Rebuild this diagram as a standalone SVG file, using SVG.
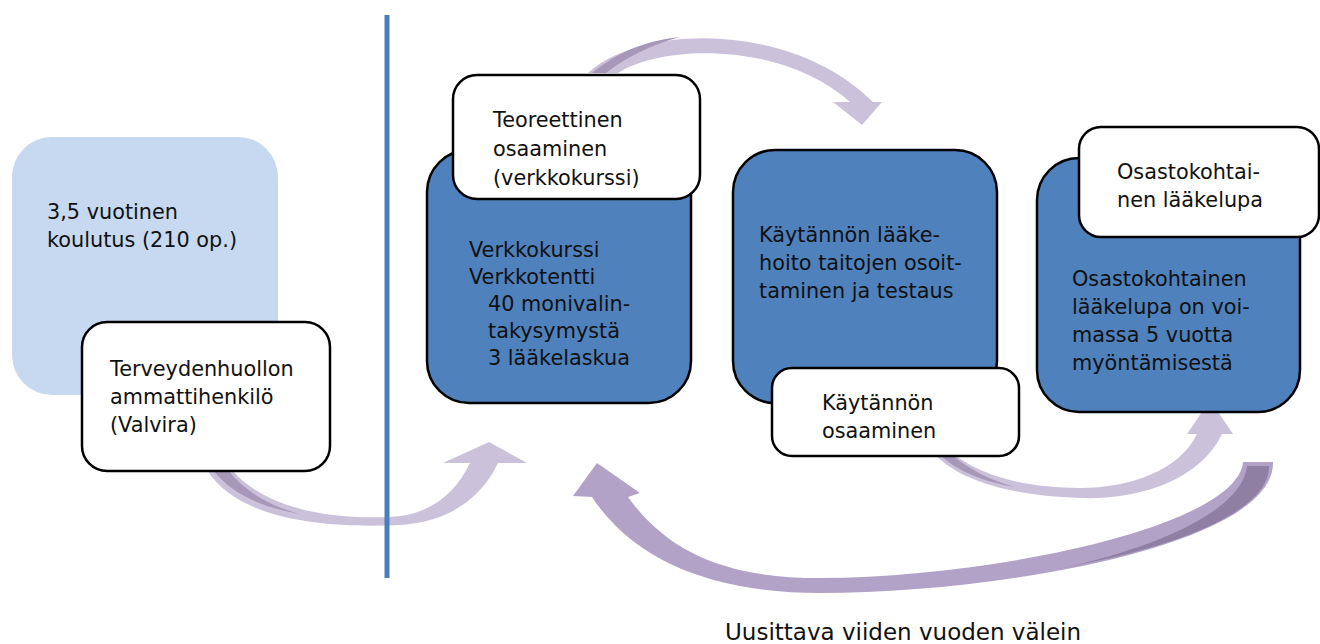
<svg xmlns="http://www.w3.org/2000/svg" width="1320" height="644" viewBox="0 0 1320 644">
<style>
text{font-family:"DejaVu Sans","Liberation Sans",sans-serif;font-size:20.8px;fill:#111}
.blue{fill:#4f81bd;stroke:#000;stroke-width:2.5}
.white{fill:#fff;stroke:#000;stroke-width:2.5}
.light{fill:#ccc1da}
.mid{fill:#b3a2c7}
.dark{fill:#8f7fa2}
.shade{fill:#a797b8}
</style>
<defs>
<clipPath id="bigClip"><path d="M1270 464 C1272 545 1000 590 820 590 L820 580 C1000 579 1240 527 1246 464 Z"/></clipPath>
</defs>
<rect width="1320" height="644" fill="#fff"/>
<g id="connectors">
<g id="arrow-left">
<path class="light" d="M207 470 C240 522 330 528 400 525 C450 522 482 497 498 463 L527 463 L489 442 L443 463 L470 463 C455 494 430 515 390 517 C320 520 262 505 232 470 Z"/>
<path class="shade" d="M213 470 L228 470 C245 492 270 506 300 514 C265 508 232 495 213 470 Z"/>
</g>
<g id="arrow-top">
<path class="light" d="M588 73 C640 25 790 20 873 102 L882 102 L862 125 L833 102 L850 102 C780 40 660 45 618 73 Z"/>
<path class="shade" d="M592 73 C620 50 650 40 680 37 C650 45 625 58 606 73 Z"/>
</g>
<g id="arrow-right">
<path class="light" d="M935 455 C960 480 1010 496 1080 498 C1140 500 1200 480 1222 434 L1233 434 L1210 400 L1187 434 L1197 434 C1180 470 1130 488 1080 488 C1030 488 985 478 955 455 Z"/>
<path class="shade" d="M940 455 L952 455 C970 470 990 480 1015 487 C985 482 958 472 940 455 Z"/>
</g>
<g id="arrow-bottom">
<path class="mid" d="M1273 462 C1275 545 1000 593 820 593 C730 593 640 570 592 497 L573 496 L597 463 L640 493 L628 497 C670 555 730 578 820 578 C1000 577 1238 525 1243 462 Z"/>
<path class="dark" clip-path="url(#bigClip)" d="M1247 466 L1269 466 C1271 543 1000 590 900 592 C1080 578 1240 528 1247 466 Z"/>
</g>
</g>
<line id="divider" x1="387" y1="15" x2="387" y2="578" stroke="#4a7ebb" stroke-width="5"/>
<g id="node-koulutus">
<rect x="12" y="137" width="266" height="258" rx="40" fill="#c6d9f0"/>
<text x="47" y="219">3,5 vuotinen</text>
<text x="47" y="247">koulutus (210 op.)</text>
</g>
<g id="node-terveydenhuollon">
<rect class="white" x="82" y="322" width="248" height="149" rx="25"/>
<text x="110" y="376">Terveydenhuollon</text>
<text x="110" y="404">ammattihenkilö</text>
<text x="110" y="432">(Valvira)</text>
</g>
<g id="node-verkkokurssi">
<rect class="blue" x="427" y="150" width="264" height="253" rx="42"/>
<text x="469" y="257">Verkkokurssi</text>
<text x="469" y="284">Verkkotentti</text>
<text x="488" y="311">40 monivalin-</text>
<text x="488" y="338">takysymystä</text>
<text x="488" y="365">3 lääkelaskua</text>
</g>
<g id="node-teoreettinen">
<rect class="white" x="453" y="75" width="247" height="124" rx="24"/>
<text x="493" y="127">Teoreettinen</text>
<text x="493" y="156">osaaminen</text>
<text x="493" y="185">(verkkokurssi)</text>
</g>
<g id="node-kaytannon-laakehoito">
<rect class="blue" x="733" y="150" width="264" height="253" rx="42"/>
<text x="759" y="242">Käytännön lääke-</text>
<text x="759" y="270">hoito taitojen osoit-</text>
<text x="759" y="298">taminen ja testaus</text>
</g>
<g id="node-kaytannon-osaaminen">
<rect class="white" x="772" y="368" width="247" height="88" rx="20"/>
<text x="822" y="410">Käytännön</text>
<text x="822" y="438">osaaminen</text>
</g>
<g id="node-laakelupa">
<rect class="blue" x="1037" y="158" width="263" height="254" rx="42"/>
<text x="1072" y="286">Osastokohtainen</text>
<text x="1072" y="314">lääkelupa on voi-</text>
<text x="1072" y="342">massa 5 vuotta</text>
<text x="1072" y="370">myöntämisestä</text>
</g>
<g id="node-osastokohtainen">
<rect class="white" x="1079" y="127" width="240" height="110" rx="22"/>
<text x="1117" y="179">Osastokohtai-</text>
<text x="1117" y="207">nen lääkelupa</text>
</g>
<text id="caption" x="725" y="640" style="font-size:23px">Uusittava viiden vuoden välein</text>
</svg>
